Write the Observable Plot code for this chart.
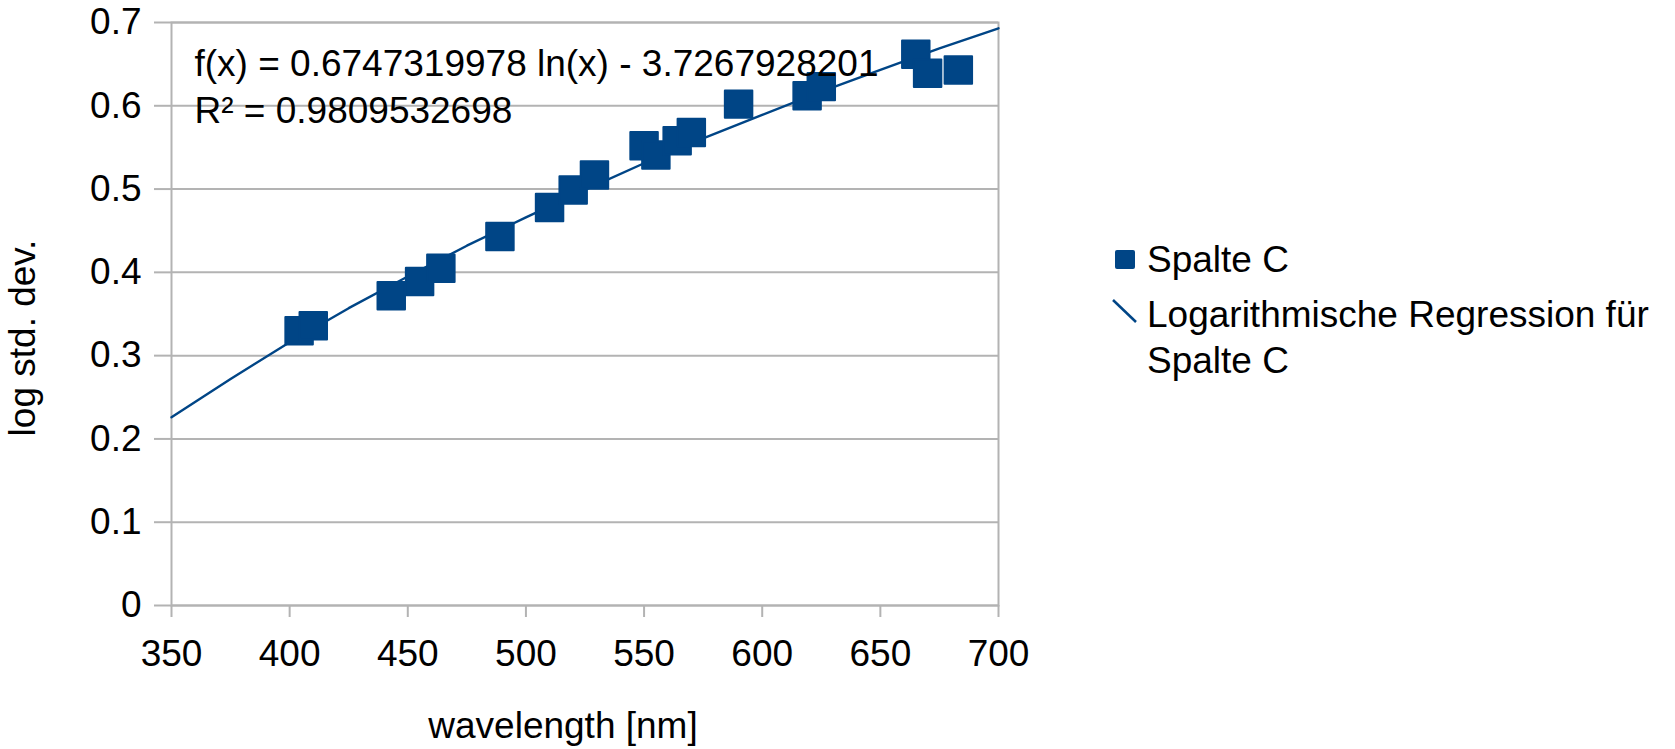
<!DOCTYPE html>
<html>
<head>
<meta charset="utf-8">
<script src="https://cdn.jsdelivr.net/npm/d3@7"></script>
<script src="https://cdn.jsdelivr.net/npm/@observablehq/plot@0.6"></script>
<style>
  html, body { margin: 0; padding: 0; background: #ffffff; }
  #wrap { position: relative; width: 1675px; height: 749px; font-family: "Liberation Sans", Arial, sans-serif; color: #000; }
  .leg { position: absolute; font-size: 37px; line-height: 46px; white-space: nowrap; }
</style>
</head>
<body>
<div id="wrap"></div>
<script>
// ---- data ----
const wavelength = [404, 410, 443, 455, 464, 489, 510, 520, 529, 550, 555, 564, 570, 590, 619, 625, 665, 670, 683];
const logStdDev  = [0.330, 0.336, 0.372, 0.389, 0.405, 0.443, 0.478, 0.499, 0.517, 0.552, 0.541, 0.558, 0.568, 0.602, 0.612, 0.623, 0.662, 0.639, 0.643];

// trend line (logarithmic regression) values, as shown on the chart
const trendX = [350, 375, 400, 425, 450, 475, 500, 525, 550, 575, 600, 625, 650, 675, 700];
const trendY = [0.226, 0.272, 0.316, 0.357, 0.395, 0.432, 0.466, 0.499, 0.531, 0.561, 0.589, 0.617, 0.643, 0.669, 0.693];

const xTicks = [350, 400, 450, 500, 550, 600, 650, 700];
const yTicks = [0, 0.1, 0.2, 0.3, 0.4, 0.5, 0.6, 0.7];
const yTickLabels = ["0", "0.1", "0.2", "0.3", "0.4", "0.5", "0.6", "0.7"];

const equationLines = ["f(x) = 0.6747319978 ln(x) - 3.7267928201", "R² = 0.9809532698"];
const xTitle = "wavelength [nm]";
const yTitle = "log std. dev.";
const legendSeries = "Spalte C";
const legendTrend = ["Logarithmische Regression für", "Spalte C"];

const blue = "#004586";
const gray = "#b3b3b3";
const fs = 37;

const points = wavelength.map((w, i) => ({w, v: logStdDev[i]}));
const trend = trendX.map((w, i) => ({w, v: trendY[i]}));

const chart = Plot.plot({
  width: 1675,
  height: 749,
  marginTop: 22,
  marginBottom: 144,
  marginLeft: 171,
  marginRight: 677,
  style: {fontFamily: "'Liberation Sans', Arial, sans-serif", fontSize: fs + "px", color: "#000", background: "#fff"},
  x: {domain: [350, 700]},
  y: {domain: [0, 0.7]},
  marks: [
    Plot.gridY(yTicks, {stroke: gray, strokeOpacity: 1, strokeWidth: 2}),
    Plot.frame({stroke: gray, strokeWidth: 2}),
    Plot.axisY(yTicks, {tickSize: 17, tickPadding: 13, stroke: gray, strokeWidth: 2, fill: "#000", fontSize: fs,
      tickFormat: (d, i) => yTickLabels[i], label: null}),
    Plot.axisX(xTicks, {tickSize: 12, tickPadding: 22, stroke: gray, strokeWidth: 2, fill: "#000", fontSize: fs,
      tickFormat: d => String(d), label: null}),
    Plot.line(trend, {x: "w", y: "v", stroke: blue, strokeWidth: 2.4}),
    Plot.dot(points, {x: "w", y: "v", symbol: "square", r: 15.5, fill: blue, stroke: blue, strokeWidth: 2, strokeLinejoin: "round"}),
    Plot.text([equationLines.join("\n")], {frameAnchor: "top-left", textAnchor: "start", lineAnchor: "top",
      dx: 23, dy: 20, lineHeight: 1.27, fontSize: fs, fill: "#000"}),
    Plot.text([xTitle], {frameAnchor: "bottom", textAnchor: "middle", lineAnchor: "bottom", dx: -22, dy: 132, fontSize: fs, fill: "#000"}),
    Plot.text([yTitle], {frameAnchor: "left", textAnchor: "middle", lineAnchor: "bottom", rotate: -90, dx: -137, dy: 24, fontSize: fs, fill: "#000"})
  ]
});

const wrap = document.getElementById("wrap");
chart.style.position = "absolute";
chart.style.left = "0px";
chart.style.top = "0px";
wrap.appendChild(chart);

// legend (HTML overlay)
const sq = document.createElement("div");
Object.assign(sq.style, {position: "absolute", left: "1115px", top: "250px", width: "20px", height: "19px", background: blue, borderRadius: "2px"});
wrap.appendChild(sq);

const ln = document.createElementNS("http://www.w3.org/2000/svg", "svg");
ln.setAttribute("width", "32");
ln.setAttribute("height", "32");
Object.assign(ln.style, {position: "absolute", left: "1110px", top: "296px"});
ln.innerHTML = `<line x1="3" y1="4" x2="26" y2="26" stroke="${blue}" stroke-width="2.5"/>`;
wrap.appendChild(ln);

const t1 = document.createElement("div");
t1.className = "leg";
Object.assign(t1.style, {left: "1147px", top: "237px"});
t1.textContent = legendSeries;
wrap.appendChild(t1);

const t2 = document.createElement("div");
t2.className = "leg";
Object.assign(t2.style, {left: "1147px", top: "292px"});
t2.innerHTML = legendTrend.join("<br>");
wrap.appendChild(t2);
</script>
</body>
</html>
